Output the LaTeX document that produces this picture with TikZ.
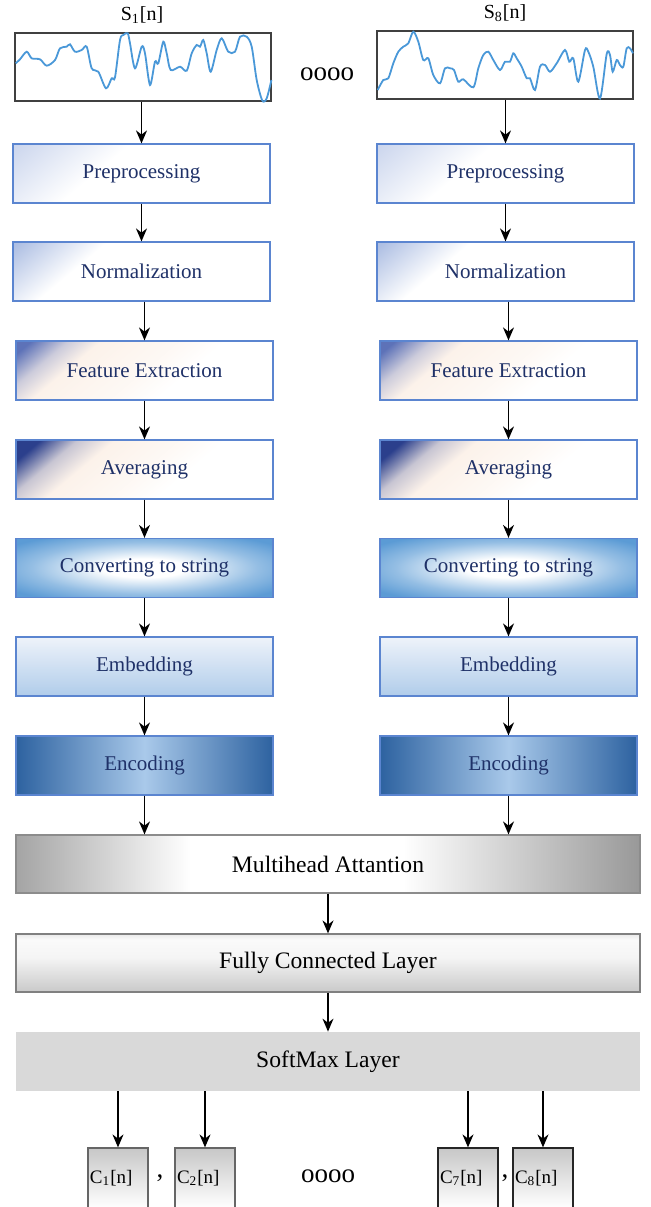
\documentclass[tikz,border=0pt]{standalone}
\usepackage{fontspec}
\setmainfont{Liberation Serif}
\usetikzlibrary{arrows.meta,positioning,calc}

\definecolor{BoxLine}{HTML}{5B85D0}
\definecolor{TxtBlue}{HTML}{1F3168}
\definecolor{WaveBlue}{HTML}{4A98D8}
\definecolor{PrepBlue}{HTML}{CDD7EE}
\definecolor{NormBlue}{HTML}{AEBFE3}
\definecolor{FeatBlue}{HTML}{5D72B8}
\definecolor{AvgBlue}{HTML}{2B3F8C}
\definecolor{Peach}{HTML}{FCF2EA}
\definecolor{ConvBlue}{HTML}{5B9BD5}
\definecolor{EmbTop}{HTML}{EEF3FA}
\definecolor{EmbBot}{HTML}{B0CCEA}
\definecolor{EncDark}{HTML}{2D62A0}
\definecolor{EncLight}{HTML}{A9C9EA}
\definecolor{MhGray}{HTML}{A4A4A4}
\definecolor{FcGray}{HTML}{C9C9C9}
\definecolor{FcTop}{HTML}{E9E9E9}
\definecolor{SmGray}{HTML}{D9D9D9}

\pgfdeclarehorizontalshading{prepshade}{100bp}{color(0bp)=(PrepBlue); color(16bp)=(PrepBlue); color(40bp)=(white); color(100bp)=(white)}
\pgfdeclarehorizontalshading{normshade}{100bp}{color(0bp)=(NormBlue); color(16bp)=(NormBlue); color(35bp)=(white); color(100bp)=(white)}
\pgfdeclarehorizontalshading{featshade}{100bp}{color(0bp)=(FeatBlue); color(18bp)=(FeatBlue); color(26bp)=(FeatBlue!30!Peach); color(33bp)=(Peach); color(50bp)=(Peach!50); color(60bp)=(white); color(100bp)=(white)}
\pgfdeclarehorizontalshading{avgshade}{100bp}{color(0bp)=(AvgBlue); color(20bp)=(AvgBlue); color(28bp)=(AvgBlue!25!Peach); color(36bp)=(Peach); color(50bp)=(Peach!50); color(60bp)=(white); color(100bp)=(white)}
\pgfdeclareradialshading{convshade}{\pgfpoint{0bp}{0bp}}{color(0bp)=(white); color(8bp)=(white); color(22bp)=(ConvBlue!65!white); color(32bp)=(ConvBlue); color(50bp)=(ConvBlue)}
\pgfdeclarehorizontalshading{mhshade}{100bp}{color(0bp)=(MhGray); color(25bp)=(MhGray); color(39bp)=(white); color(56bp)=(white); color(75bp)=(MhGray!93!black); color(100bp)=(MhGray!93!black)}
\pgfdeclareverticalshading{fcshade}{100bp}{color(0bp)=(FcGray); color(25bp)=(FcGray); color(55bp)=(white!96!black); color(70bp)=(white!98!black); color(75bp)=(FcTop); color(100bp)=(FcTop)}

\begin{document}
\begin{tikzpicture}[x=0.5pt,y=-0.5pt,>={Stealth[length=6.5pt,width=5.5pt]},
  blk/.style={draw=BoxLine,line width=0.6pt,minimum width=128.5pt,minimum height=29.5pt,
    inner sep=0pt,text=TxtBlue,font=\fontsize{10.5}{12}\selectfont},
  prepbox/.style={blk,shade,shading=prepshade,shading angle=-50},
  normbox/.style={blk,shade,shading=normshade,shading angle=-50},
  featbox/.style={blk,shade,shading=featshade,shading angle=-50},
  avgbox/.style={blk,shade,shading=avgshade,shading angle=-50},
  convbox/.style={blk,shade,shading=convshade},
  embbox/.style={blk,top color=EmbTop,bottom color=EmbBot},
  encbox/.style={blk,left color=EncDark,right color=EncDark,middle color=EncLight},
  wide/.style={minimum width=312pt,minimum height=29pt,inner sep=0pt,font=\fontsize{11.8}{14}\selectfont},
  sigbox/.style={draw=black!75,line width=0.7pt,minimum width=128pt,minimum height=34pt,inner sep=0pt},
  outbox/.style={draw=black!60,line width=0.6pt,top color=black!22,bottom color=white,
    minimum width=30pt,minimum height=30pt,text width=28pt,align=left,inner sep=1pt,
    font=\fontsize{9.5}{11}\selectfont},
  wave/.style={WaveBlue,line width=0.9pt,smooth,tension=0.5},
  arr/.style={->,line width=0.75pt}]
\useasboundingbox (0,0) rectangle (651,1207);

% input signals
\node[sigbox] (sig1) at (143,67) {};
\node[sigbox] (sig8) at (505,65) {};
\node[font=\fontsize{10}{12}\selectfont] (s1) at (142,15) {S\textsubscript{1}[n]};
\node[font=\fontsize{10}{12}\selectfont] (s8) at (505,13) {S\textsubscript{8}[n]};
\node[font=\fontsize{13.5}{15}\selectfont] (dots1) at (327,74) {oooo};
\draw[wave] plot coordinates {(15.7,63.3) (20,59.3) (26.7,51.7) (31.7,58.3) (40,59.3)
  (46.7,65.7) (55,60) (60,48.3) (66.7,46.7) (70,44.3) (75,51.7) (81.7,50) (86.7,46.7)
  (91.7,68.3) (98.3,71.7) (106,88.3) (111.7,78.3) (115,77.3) (120,40) (123.3,35)
  (127.7,33.3) (130,43.3) (135,68.3) (141.7,46.7) (145,53.3) (150,85) (155,61.7)
  (158.3,63.3) (163.3,41.7) (166.7,53.3) (170.7,70) (180,66.7) (186.7,70.7) (191.7,53.3)
  (196.7,45) (200,46.7) (203.3,40) (206.7,53.3) (210.7,71.7) (216.7,50) (221.7,38.3)
  (228.3,51.7) (235,51.7) (240,36.7) (246.7,36.7) (251.7,46.7) (256.7,80) (262.3,100.5)
  (266.7,98.3) (271.4,80)};
\draw[wave] plot coordinates {(377.7,90) (383.3,80) (388.3,78.3) (393.3,63.3) (398.3,51.7)
  (403.3,46.7) (408.3,43.3) (413.3,31.7) (418.3,41.7) (423.3,60) (428.3,58.3) (433.3,75)
  (440,83.3) (445,68.3) (450,68.3) (454,70) (458.3,81.7) (463.3,79.3) (473.3,87.3)
  (478.3,68.3) (483.3,55) (488.3,51.7) (493.3,60) (500,70) (505,61.7) (510,61.7)
  (513.3,53.3) (516.7,58.3) (521.7,66.7) (526.7,78.3) (530,78.3) (535,90) (540,66.7)
  (545,65) (550,71.7) (556.7,63.3) (565,50) (569.3,61.7) (573.3,58.3) (578.3,81.7)
  (585,50) (588.3,51.7) (593.3,66.7) (600,98.5) (606.7,54) (610,55) (612.7,71.7)
  (616.7,60) (620,65) (623.3,66.7) (626.7,48.3) (630,48.3) (633,53.3)};

% left branch
\node[prepbox] (pre1) at (141.5,173.5) {Preprocessing};
\node[normbox] (nor1) at (141.5,271.5) {Normalization};
\node[featbox] (fea1) at (144.5,370.5) {Feature Extraction};
\node[avgbox] (avg1) at (144.5,469.5) {Averaging};
\node[convbox] (con1) at (144.5,568) {Converting to string};
\node[embbox] (emb1) at (144.5,666.5) {Embedding};
\node[encbox] (enc1) at (144.5,765.5) {Encoding};

% right branch
\node[prepbox] (pre8) at (505.5,173.5) {Preprocessing};
\node[normbox] (nor8) at (505.5,271.5) {Normalization};
\node[featbox] (fea8) at (508.5,370.5) {Feature Extraction};
\node[avgbox] (avg8) at (508.5,469.5) {Averaging};
\node[convbox] (con8) at (508.5,568) {Converting to string};
\node[embbox] (emb8) at (508.5,666.5) {Embedding};
\node[encbox] (enc8) at (508.5,765.5) {Encoding};

% common part
\node[wide,draw=black!45,line width=0.6pt,shade,shading=mhshade] (mha) at (328,864) {Multihead Attantion};
\node[wide,draw=black!50,line width=0.6pt,shade,shading=fcshade] (fcl) at (328,963) {Fully Connected Layer};
\node[wide,fill=SmGray,minimum height=29.5pt] (sml) at (328,1061.5) {SoftMax Layer};

% outputs
\node[outbox] (c1) at (118,1178) {C\textsubscript{1}[n]};
\node[outbox] (c2) at (205,1178) {C\textsubscript{2}[n]};
\node[outbox,draw=black!85] (c7) at (468,1178) {C\textsubscript{7}[n]};
\node[outbox,draw=black!85] (c8) at (543,1178) {C\textsubscript{8}[n]};
\node[font=\fontsize{13.5}{15}\selectfont] (com1) at (160,1178) {,};
\node[font=\fontsize{13.5}{15}\selectfont] (com2) at (505,1178) {,};
\node[font=\fontsize{13.5}{15}\selectfont] (dots2) at (328,1176) {oooo};

% arrows
\draw[arr] (sig1.south -| pre1) -- (pre1);
\draw[arr] (pre1) -- (nor1);
\draw[arr] (fea1.north |- nor1.south) -- (fea1);
\draw[arr] (fea1) -- (avg1);
\draw[arr] (avg1) -- (con1);
\draw[arr] (con1) -- (emb1);
\draw[arr] (emb1) -- (enc1);
\draw[arr] (sig8.south -| pre8) -- (pre8);
\draw[arr] (pre8) -- (nor8);
\draw[arr] (fea8.north |- nor8.south) -- (fea8);
\draw[arr] (fea8) -- (avg8);
\draw[arr] (avg8) -- (con8);
\draw[arr] (con8) -- (emb8);
\draw[arr] (emb8) -- (enc8);
\draw[arr] (enc1) -- (enc1 |- mha.north);
\draw[arr] (enc8) -- (enc8 |- mha.north);
\draw[arr] (mha) -- (fcl);
\draw[arr] (fcl) -- (sml);
\draw[arr] (c1 |- sml.south) -- (c1);
\draw[arr] (c2 |- sml.south) -- (c2);
\draw[arr] (c7 |- sml.south) -- (c7);
\draw[arr] (c8 |- sml.south) -- (c8);
\end{tikzpicture}
\end{document}
